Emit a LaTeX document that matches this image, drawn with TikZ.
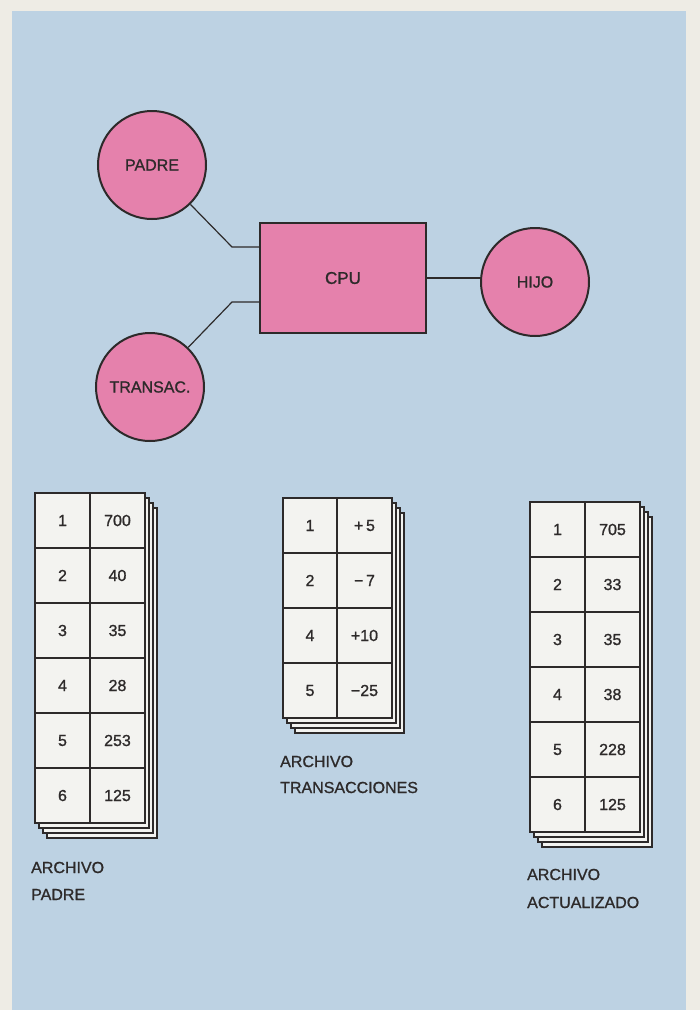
\documentclass[tikz,border=0pt]{standalone}
\usepackage{fontspec}
\setmainfont{Liberation Sans}[FakeBold=1.1]
\definecolor{paper}{RGB}{238,236,229}
\definecolor{panel}{RGB}{189,210,227}
\definecolor{rosa}{RGB}{229,129,172}
\definecolor{cardw}{RGB}{243,243,240}
\definecolor{ink}{RGB}{45,42,42}
\tikzset{
  unit/.style={circle, draw=ink, line width=2pt, fill=rosa, minimum size=108pt, inner sep=0pt, font=\fontsize{16}{18}\selectfont, text=ink},
  cpubox/.style={rectangle, draw=ink, line width=2pt, fill=rosa, minimum width=166pt, minimum height=110pt, inner sep=0pt, font=\fontsize{17}{19}\selectfont, text=ink},
  link/.style={draw=ink, line width=1.2pt},
  sheet/.style={draw=ink, line width=1.6pt, fill=cardw},
  cell/.style={rectangle, draw=ink, line width=2pt, minimum width=55pt, minimum height=55pt, inner sep=0pt, font=\fontsize{16}{18}\selectfont, text=ink},
  caption/.style={anchor=base west, inner sep=0pt, font=\fontsize{16}{18}\selectfont, text=ink}
}
\begin{document}
\begin{tikzpicture}[x=1pt,y=-1pt]
\useasboundingbox (0,0) rectangle (700,1010);
\fill[paper] (0,0) rectangle (700,1010);
\fill[panel] (12,11) rectangle (686,1010);

% top diagram
\node[unit] (padre) at (152,165) {PADRE};
\node[unit] (transac) at (150,387) {TRANSAC.};
\node[unit] (hijo) at (535,282) {HIJO};
\node[cpubox] (cpu) at (343,278) {CPU};
\coordinate (k1) at (232,247);
\coordinate (k2) at (232,302);
\draw[link] (padre) -- (k1) -- (k1 -| cpu.west);
\draw[link] (transac) -- (k2) -- (k2 -| cpu.west);
\draw[link] (cpu.east) -- (cpu.east -| hijo.west);

% left stack: ARCHIVO PADRE
\foreach \k in {3,2,1,0}
  \draw[sheet] (35+4*\k,493+5*\k) rectangle (145+4*\k,823+5*\k);
\foreach \a/\b [count=\i] in {1/700,2/40,3/35,4/28,5/253,6/125} {
  \node[cell] (pa-\i-a) at (62.5,493+27.5+55*\i-55) {\a};
  \node[cell] (pa-\i-b) at (117.5,493+27.5+55*\i-55) {\b};
}
\node[caption] (capa1) at (31,873) {ARCHIVO};
\node[caption] (capa2) at (31,900) {PADRE};

% middle stack: ARCHIVO TRANSACCIONES
\foreach \k in {3,2,1,0}
  \draw[sheet] (283+4*\k,498+5*\k) rectangle (392+4*\k,718+5*\k);
\foreach \a/\b [count=\i] in {1/+\,5,2/−\,7,4/+10,5/−25} {
  \node[cell, minimum width=54pt] (tr-\i-a) at (310,498+27.5+55*\i-55) {\a};
  \node[cell] (tr-\i-b) at (364.5,498+27.5+55*\i-55) {\b};
}
\node[caption] (capt1) at (280,767) {ARCHIVO};
\node[caption] (capt2) at (280,793) {TRANSACCIONES};

% right stack: ARCHIVO ACTUALIZADO
\foreach \k in {3,2,1,0}
  \draw[sheet] (530+4*\k,502+5*\k) rectangle (640+4*\k,832+5*\k);
\foreach \a/\b [count=\i] in {1/705,2/33,3/35,4/38,5/228,6/125} {
  \node[cell] (ac-\i-a) at (557.5,502+27.5+55*\i-55) {\a};
  \node[cell] (ac-\i-b) at (612.5,502+27.5+55*\i-55) {\b};
}
\node[caption] (capc1) at (527,880) {ARCHIVO};
\node[caption] (capc2) at (527,908) {ACTUALIZADO};
\end{tikzpicture}
\end{document}
